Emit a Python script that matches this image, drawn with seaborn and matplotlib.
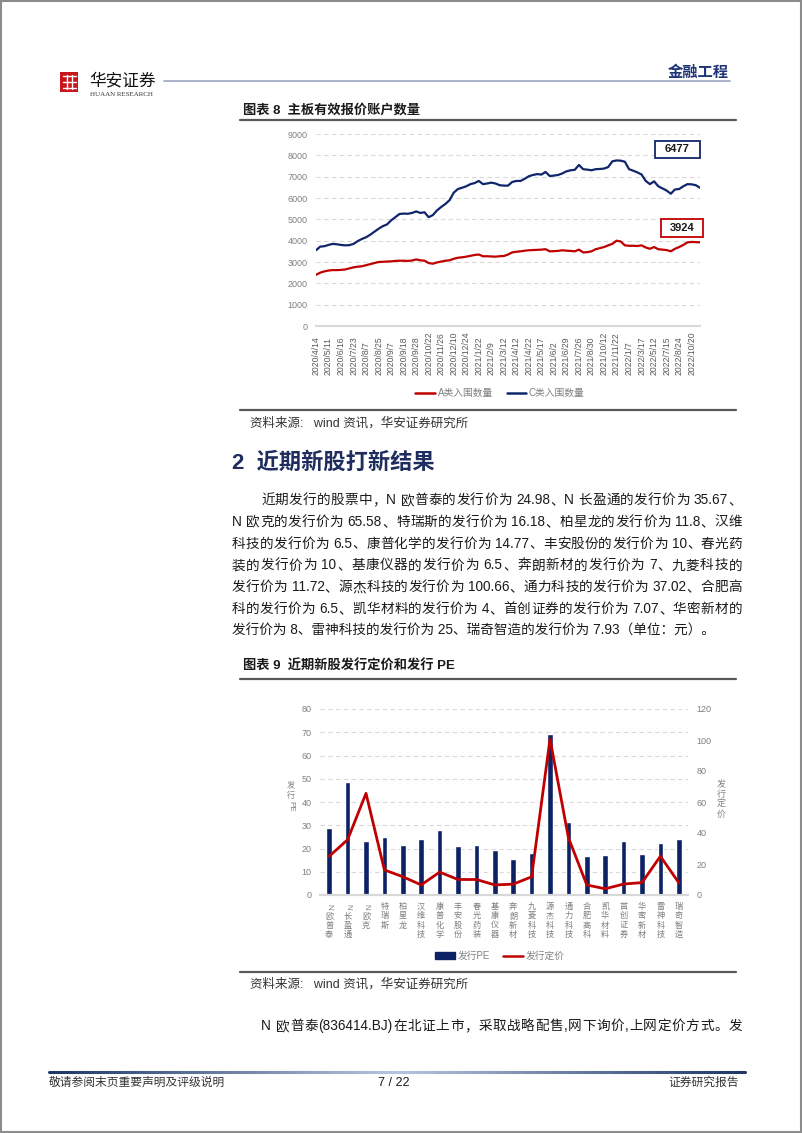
import re
import numpy as np
import pandas as pd
import matplotlib
matplotlib.use("Agg")
import matplotlib.pyplot as plt
import matplotlib.transforms as mtransforms
from matplotlib.colors import LinearSegmentedColormap
from matplotlib.lines import Line2D
from matplotlib.patches import Rectangle
import seaborn as sns

W, H = 802, 1133

# 图表8 主板有效报价账户数量: 3 points between two date labels
date_labels = ['2020/4/14', '2020/5/11', '2020/6/16', '2020/7/23', '2020/8/7', '2020/8/25',
               '2020/9/7', '2020/9/18', '2020/9/28', '2020/10/22', '2020/11/26', '2020/12/10',
               '2020/12/24', '2021/1/22', '2021/2/9', '2021/3/12', '2021/4/12', '2021/4/22',
               '2021/5/17', '2021/6/2', '2021/6/29', '2021/7/26', '2021/8/30', '2021/10/12',
               '2021/11/22', '2022/1/7', '2022/3/17', '2022/5/12', '2022/7/15', '2022/8/24',
               '2022/10/20']
a_count = [2400, 2500, 2560, 2600, 2620, 2620, 2630, 2650, 2700, 2750, 2780, 2800, 2850, 2900,
           2950, 3000, 3010, 3020, 3030, 3050, 3060, 3060, 3050, 3070, 3120, 3080, 3060, 2950,
           2920, 2980, 3020, 3060, 3080, 3150, 3200, 3220, 3250, 3290, 3330, 3350, 3270, 3270,
           3260, 3250, 3270, 3280, 3350, 3450, 3480, 3500, 3530, 3550, 3560, 3570, 3580, 3600,
           3500, 3510, 3520, 3550, 3530, 3520, 3500, 3580, 3450, 3460, 3500, 3600, 3650, 3700,
           3780, 3850, 4000, 3960, 3780, 3760, 3760, 3750, 3780, 3680, 3620, 3700, 3600, 3580,
           3560, 3500, 3620, 3700, 3800, 3920, 3940, 3930, 3924]
c_count = [3550, 3720, 3740, 3800, 3850, 3830, 3800, 3780, 3790, 3850, 3980, 4080, 4160, 4280,
           4420, 4560, 4680, 4760, 4950, 5100, 5250, 5270, 5260, 5300, 5370, 5300, 5330, 5100,
           5200, 5420, 5580, 5720, 5900, 6250, 6420, 6480, 6550, 6650, 6700, 6800, 6650, 6680,
           6720, 6680, 6600, 6580, 6580, 6750, 6800, 6800, 6900, 7020, 7080, 7120, 7100, 7220,
           7030, 7050, 7080, 7150, 7250, 7300, 7320, 7550, 7350, 7330, 7300, 7350, 7360, 7380,
           7450, 7720, 7760, 7750, 7700, 7350, 7280, 7200, 7100, 6800, 6650, 6780, 6550, 6450,
           6350, 6200, 6400, 6420, 6550, 6650, 6640, 6600, 6477]

# 图表9 近期新股发行定价和发行PE
stocks = ['N欧普泰', 'N长盈通', 'N欧克', '特瑞斯', '柏星龙', '汉维科技', '康普化学', '丰安股份',
          '春光药装', '基康仪器', '奔朗新材', '九菱科技', '源杰科技', '通力科技', '合肥高科',
          '凯华材料', '首创证券', '华密新材', '雷神科技', '瑞奇智造']
issue_pe = [28.9, 48.6, 23.1, 25.1, 21.7, 24.1, 27.9, 21.0, 21.4, 19.4, 15.4, 18.0, 69.3, 31.4,
            16.7, 17.4, 23.1, 17.7, 22.3, 23.9]
issue_price = [24.98, 35.67, 65.58, 16.18, 11.8, 6.5, 14.77, 10, 10, 6.5, 7, 11.72, 100.66, 37.02,
               6.5, 4, 7.07, 8, 25, 7.93]

para_lines = [
    '近期发行的股票中，N 欧普泰的发行价为 24.98、N 长盈通的发行价为 35.67、',
    'N 欧克的发行价为 65.58、特瑞斯的发行价为 16.18、柏星龙的发行价为 11.8、汉维',
    '科技的发行价为 6.5、康普化学的发行价为 14.77、丰安股份的发行价为 10、春光药',
    '装的发行价为 10、基康仪器的发行价为 6.5、奔朗新材的发行价为 7、九菱科技的',
    '发行价为 11.72、源杰科技的发行价为 100.66、通力科技的发行价为 37.02、合肥高',
    '科的发行价为 6.5、凯华材料的发行价为 4、首创证券的发行价为 7.07、华密新材的',
    '发行价为 8、雷神科技的发行价为 25、瑞奇智造的发行价为 7.93（单位：元）。',
]
para2 = 'N 欧普泰(836414.BJ)在北证上市，采取战略配售,网下询价,上网定价方式。发'

NAVY = '#10266b'
RED = '#c00000'
GRAY = '#808080'

sns.set_theme(style="white")
plt.rcParams['font.family'] = ['Liberation Sans', 'Noto Sans CJK SC', 'DejaVu Sans']
plt.rcParams['axes.unicode_minus'] = False

fig = plt.figure(figsize=(W / 100, H / 100), dpi=100)
fig.patch.set_facecolor('white')
renderer = fig.canvas.get_renderer()


def fx(x):
    return x / W


def fy(y):
    return 1 - y / H


def box(l, t, r, b):
    return [fx(l), fy(b), (r - l) / W, (b - t) / H]


def text(x, y, s, **kw):
    kw.setdefault('va', 'center')
    return fig.text(fx(x), fy(y), s, **kw)


def hline(x0, x1, y, color, lw):
    fig.add_artist(Line2D([fx(x0), fx(x1)], [fy(y), fy(y)], color=color, lw=lw))


def justify(x0, x1, y, s, size, color='#1a1a1a'):
    toks = re.findall(r'[A-Za-z0-9.()/]+|.', s)
    ws = []
    for tok in toks:
        t = fig.text(0, 0, tok, fontsize=size)
        ws.append(t.get_window_extent(renderer).width)
        t.remove()
    gap = (x1 - x0 - sum(ws)) / max(len(toks) - 1, 1)
    x = x0
    for tok, w in zip(toks, ws):
        text(x, y, tok, fontsize=size, color=color, ha='left')
        x += w + gap


# page frame
fig.add_artist(Rectangle((0.001, 0.001), 0.998, 0.998, transform=fig.transFigure,
                         fill=False, edgecolor='#8c8c8c', lw=1.5))

# header
fig.add_artist(Rectangle((fx(60), fy(92)), 18 / W, 20 / H, transform=fig.transFigure,
                         color='#c8161d', lw=0))
for y0 in (76, 82, 88):
    hline(62.5, 75.5, y0, 'white', 1.0)
for x0 in (66.5, 71.5):
    fig.add_artist(Line2D([fx(x0), fx(x0)], [fy(75), fy(89)], color='white', lw=1.0))
text(89, 81, '华安证券', fontsize=12, color='#111111')
text(90, 94.5, 'HUAAN RESEARCH', fontsize=5, color='#333333', family='Liberation Serif')
hline(164, 730, 81, '#a3adc6', 1.3)
text(729, 73, '金融工程', fontsize=11, color='#1f3577', ha='right', weight='bold')

# ---------------- 图表8 ----------------
text(243, 110, '图表 8  主板有效报价账户数量', fontsize=9.5, weight='bold', color='#1a1a1a')
hline(240, 736, 120, '#595959', 1.6)

ax1 = fig.add_axes(box(316, 134, 700, 326))
n1 = len(c_count)
df1 = pd.DataFrame({'idx': np.tile(np.arange(n1), 2),
                    'value': a_count + c_count,
                    'series': ['A类入围数量'] * n1 + ['C类入围数量'] * n1})
sns.lineplot(data=df1, x='idx', y='value', hue='series',
             palette={'A类入围数量': RED, 'C类入围数量': NAVY},
             linewidth=1.6, ax=ax1, legend=False)
ax1.set_xlim(0, n1 - 1)
ax1.set_ylim(0, 9000)
ax1.set_yticks(range(0, 9001, 1000))
ax1.set_xticks([])
ax1.set_xlabel('')
ax1.set_ylabel('')
ax1.tick_params(axis='y', labelsize=6.5, labelcolor=GRAY, pad=6, length=0)
ax1.yaxis.grid(True, linestyle=(0, (4, 3)), color='#d9d9d9', lw=0.8)
for s in ('top', 'right', 'left'):
    ax1.spines[s].set_visible(False)
ax1.spines['bottom'].set_color('#d9d9d9')
ax1.spines['bottom'].set_linewidth(1.5)
bt1 = mtransforms.blended_transform_factory(ax1.transData, fig.transFigure)
for k, lab in enumerate(date_labels):
    ax1.text(3 * k, fy(375), lab, transform=bt1, rotation=90, ha='center', va='bottom',
             fontsize=6.2, color='#595959')

for val, color, (l, t, r, b) in ((c_count[-1], NAVY, (655, 141, 700, 158)),
                                  (a_count[-1], RED, (661, 219, 703, 237))):
    fig.add_artist(Rectangle((fx(l), fy(b)), (r - l) / W, (b - t) / H,
                             transform=fig.transFigure, facecolor='white',
                             edgecolor=color, lw=1.3))
    text((l + r) / 2, (t + b) / 2, str(val), fontsize=8, weight='bold', color='#1a1a1a',
         ha='center')

fig.legend(handles=[Line2D([], [], color=RED, lw=1.8), Line2D([], [], color=NAVY, lw=1.8)],
           labels=['A类入围数量', 'C类入围数量'], loc='center', ncol=2, frameon=False,
           bbox_to_anchor=(fx(500), fy(393)), fontsize=7, labelcolor=GRAY,
           handlelength=2.0, handletextpad=0.3, columnspacing=1.4)

hline(240, 736, 410, '#595959', 1.6)
text(250, 423, '资料来源:   wind 资讯，华安证券研究所', fontsize=9, color='#333333')

# ---------------- 正文 ----------------
text(232, 463, '2  近期新股打新结果', fontsize=16, weight='bold', color='#1f2d5e')
for i, line in enumerate(para_lines):
    y = 500 + i * 21.8
    if i == 0:
        justify(261, 742, y, line, 9.8)
    elif i < len(para_lines) - 1:
        justify(232, 742, y, line, 9.8)
    else:
        text(232, y, line, fontsize=9.8, color='#1a1a1a')

# ---------------- 图表9 ----------------
text(243, 666, '图表 9  近期新股发行定价和发行 PE', fontsize=9.5, weight='bold', color='#1a1a1a')
hline(240, 736, 679, '#595959', 1.6)

ax2 = fig.add_axes(box(320, 709, 688, 895))
sns.barplot(x=stocks, y=issue_pe, color='#0c2264', saturation=1, width=0.3, ax=ax2)
ax2.set_ylim(0, 80)
ax2.set_yticks(range(0, 81, 10))
ax2.set_axisbelow(True)
ax2.yaxis.grid(True, linestyle=(0, (4, 3)), color='#d9d9d9', lw=0.8)
ax2.set_xticks(range(len(stocks)))
ax2.set_xticklabels([])
ax2.tick_params(axis='y', labelsize=6.5, labelcolor=GRAY, pad=6, length=0)
ax2.tick_params(axis='x', length=0)
ax3 = ax2.twinx()
sns.lineplot(x=np.arange(len(stocks)), y=issue_price, color=RED, linewidth=2.0, ax=ax3)
ax3.set_ylim(0, 120)
ax3.set_yticks(range(0, 121, 20))
ax3.tick_params(axis='y', labelsize=6.5, labelcolor=GRAY, pad=6, length=0)
ax2.set_xlim(-0.5, len(stocks) - 0.5)
for a in (ax2, ax3):
    for s in ('top', 'right', 'left'):
        a.spines[s].set_visible(False)
    a.spines['bottom'].set_color('#d9d9d9')
    a.spines['bottom'].set_linewidth(1.5)
    a.set_xlabel('')
    a.set_ylabel('')

bt2 = mtransforms.blended_transform_factory(ax2.transData, fig.transFigure)
for i, name in enumerate(stocks):
    for j, ch in enumerate(name):
        ax2.text(i, fy(907 + 9.3 * j), ch, transform=bt2, ha='center', va='center',
                 fontsize=5.9, color='#7f7f7f', rotation=-90 if ch == 'N' else 0)

for j, ch in enumerate('发行'):
    text(291, 786 + 9.2 * j, ch, fontsize=5.9, color=GRAY, ha='center')
text(291, 806, 'PE', fontsize=5.9, color=GRAY, ha='center', rotation=-90)
for j, ch in enumerate('发行定价'):
    text(721, 785 + 9.8 * j, ch, fontsize=6.5, color=GRAY, ha='center')

fig.legend(handles=[Rectangle((0, 0), 1, 1, color='#0c2264'), Line2D([], [], color=RED, lw=1.8)],
           labels=['发行PE', '发行定价'], loc='center', ncol=2, frameon=False,
           bbox_to_anchor=(fx(500), fy(956)), fontsize=7, labelcolor=GRAY,
           handlelength=2.0, handleheight=0.6, handletextpad=0.3, columnspacing=1.4)

hline(240, 736, 972, '#595959', 1.6)
text(250, 984, '资料来源:   wind 资讯，华安证券研究所', fontsize=9, color='#333333')

justify(261, 742, 1026, para2, 9.8)

# footer
cmap = LinearSegmentedColormap.from_list('foot', ['#1f3864', '#b8c6e0', '#1f3864'])
xs = np.linspace(49, 745, 80)
for i in range(len(xs) - 1):
    hline(xs[i], xs[i + 1], 1072, cmap(i / (len(xs) - 2)), 2.2)
text(49, 1083, '敬请参阅末页重要声明及评级说明', fontsize=8.5, color='#333333')
text(394, 1083, '7 / 22', fontsize=9, color='#1a1a1a', ha='center')
text(739, 1083, '证券研究报告', fontsize=8.5, color='#333333', ha='right')

fig.savefig('out.png', dpi=100)
